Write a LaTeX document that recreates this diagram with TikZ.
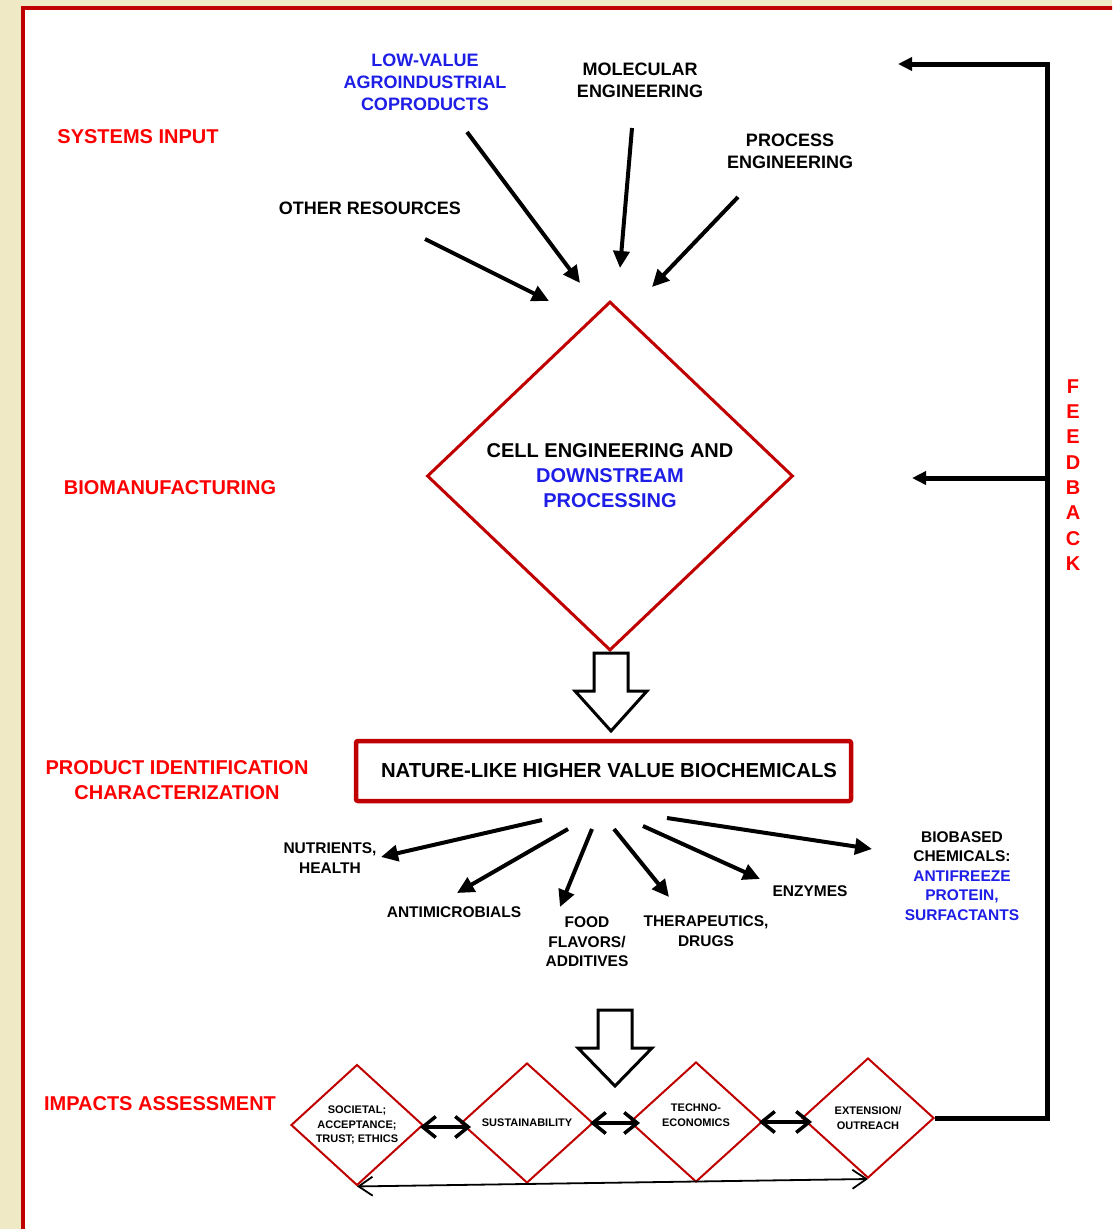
\documentclass[tikz,border=0pt]{standalone}
\usepackage{fontspec}
\setmainfont{Liberation Sans}
\usetikzlibrary{arrows.meta,shapes.geometric,positioning}

\definecolor{framered}{RGB}{192,0,0}
\definecolor{labelred}{RGB}{255,0,0}
\definecolor{itemblue}{RGB}{30,30,230}
\definecolor{paper}{RGB}{239,233,198}

\tikzset{
  stage/.style={text=labelred,font=\bfseries\fontsize{20}{25}\selectfont,align=center},
  source/.style={font=\bfseries\fontsize{18}{22}\selectfont,align=center},
  product/.style={font=\bfseries\fontsize{15.5}{19.5}\selectfont,align=center},
  impact/.style={diamond,draw=framered,line width=2pt,inner sep=0pt,
    minimum width=132pt,minimum height=120pt,
    font=\bfseries\fontsize{11}{14.5}\selectfont,align=center},
  inarrow/.style={-{Triangle[length=17pt,width=16pt]},line width=4pt},
  feedline/.style={-{Triangle[length=14pt,width=13pt]},line width=5pt,line join=miter},
  pairlink/.style={{Straight Barb[length=13pt,width=21pt]}-{Straight Barb[length=13pt,width=21pt]},line width=3.5pt},
  looplink/.style={{Straight Barb[length=14pt,width=19pt]}-{Straight Barb[length=14pt,width=19pt]},line width=1.8pt},
  hollow/.style={draw,line width=3pt,fill=white,line join=miter},
}

\begin{document}
\begin{tikzpicture}[x=1pt,y=-1pt]
  \clip (0,0) rectangle (1112,1229);
  \fill[paper] (0,0) rectangle (1112,1229);
  \filldraw[fill=white,draw=framered,line width=4pt] (23,8) rectangle (1140,1260);

  % stages
  \node[stage] (sysin) at (138,137) {SYSTEMS INPUT};
  \node[stage] (biomfg) at (170,488) {BIOMANUFACTURING};
  \node[stage] (prodid) at (177,780) {PRODUCT IDENTIFICATION\\CHARACTERIZATION};
  \node[stage] (impacts) at (160,1104) {IMPACTS ASSESSMENT};

  % inputs
  \node[source,text=itemblue] (lowval) at (425,82) {LOW-VALUE\\AGROINDUSTRIAL\\COPRODUCTS};
  \node[source] (moleng) at (640,80) {MOLECULAR\\ENGINEERING};
  \node[source] (proceng) at (790,151) {PROCESS\\ENGINEERING};
  \node[source] (other) at (370,208) {OTHER RESOURCES};

  \node[diamond,draw=framered,line width=3pt,inner sep=0pt,minimum width=366pt,
    minimum height=349pt,font=\bfseries\fontsize{20}{25}\selectfont,align=center] (cell) at (610,476)
    {CELL ENGINEERING AND\\\textcolor{itemblue}{DOWNSTREAM}\\\textcolor{itemblue}{PROCESSING}};

  \coordinate (lowvalA) at (467,132); \coordinate (lowvalB) at (580,283);
  \coordinate (molengA) at (632,128); \coordinate (molengB) at (620,268);
  \coordinate (procengA) at (738,197); \coordinate (procengB) at (652,287);
  \coordinate (otherA) at (425,239); \coordinate (otherB) at (549,301);
  \draw[inarrow] (lowvalA) -- (lowvalB);
  \draw[inarrow] (molengA) -- (molengB);
  \draw[inarrow] (procengA) -- (procengB);
  \draw[inarrow] (otherA) -- (otherB);

  \draw[hollow] (594,653) -- (628,653) -- (628,691) -- (647,691) -- (611,731)
    -- (575,691) -- (594,691) -- cycle;

  \node[draw=framered,line width=4.5pt,rounded corners=2pt,minimum width=495pt,minimum height=60pt,
    font=\bfseries\fontsize{20.3}{25}\selectfont] (nlhv) at (603.5,771)
    {\hspace{11pt}NATURE-LIKE HIGHER VALUE BIOCHEMICALS};

  % products
  \node[product] (nutr) at (330,858) {NUTRIENTS,\\HEALTH};
  \node[product] (antimic) at (454,912) {ANTIMICROBIALS};
  \node[product] (food) at (587,942) {FOOD\\FLAVORS/\\ADDITIVES};
  \node[product] (thera) at (706,931) {THERAPEUTICS,\\DRUGS};
  \node[product] (enzy) at (810,891) {ENZYMES};
  \node[product] (biobased) at (962,876) {BIOBASED\\CHEMICALS:\\\textcolor{itemblue}{ANTIFREEZE}\\
    \textcolor{itemblue}{PROTEIN,}\\\textcolor{itemblue}{SURFACTANTS}};

  \coordinate (nutrA) at (542,820); \coordinate (nutrB) at (381,857);
  \coordinate (antimicA) at (568,829); \coordinate (antimicB) at (457,893);
  \coordinate (foodA) at (592,829); \coordinate (foodB) at (560,907);
  \coordinate (theraA) at (614,829); \coordinate (theraB) at (669,897);
  \coordinate (enzyA) at (643,826); \coordinate (enzyB) at (760,879);
  \coordinate (biobasedA) at (667,818); \coordinate (biobasedB) at (872,849);
  \foreach \p in {nutr,antimic,food,thera,enzy,biobased}
    \draw[inarrow] (\p A) -- (\p B);

  \draw[hollow] (598,1010) -- (632,1010) -- (632,1048) -- (652,1048) -- (615,1086)
    -- (578,1048) -- (598,1048) -- cycle;

  % impacts
  \node[impact] (societal) at (357,1125) {SOCIETAL;\\ACCEPTANCE;\\TRUST; ETHICS};
  \node[impact] (sustain) at (527,1123) {SUSTAINABILITY};
  \node[impact] (techno) at (696,1122) {};
  \node[font=\bfseries\fontsize{11}{14.5}\selectfont,align=center] at ([yshift=7pt]techno.center) {TECHNO-\\ECONOMICS};
  \node[impact] (extens) at (868,1118) {EXTENSION/\\OUTREACH};

  \draw[pairlink,shorten <=-4pt,shorten >=-11pt] ([yshift=-2pt]societal.east) -- ([yshift=-2pt]societal.east -| sustain.west);
  \draw[pairlink,shorten <=-4pt,shorten >=-11pt] (sustain.east) -- (sustain.east -| techno.west);
  \draw[pairlink,shorten <=-4pt,shorten >=-11pt] (techno.east) -- (techno.east -| extens.west);
  \draw[looplink] (societal.south) -- (extens.south);

  % feedback
  \coordinate (fbBot) at (1047,1118);
  \coordinate (fbTop) at (1047,64);
  \coordinate (fbMid) at (1047,478);
  \coordinate (fbIn) at (898,64);
  \coordinate (fbCell) at (912,478);
  \draw[feedline] (extens.east) -- (fbBot) -- (fbTop) -- (fbIn);
  \draw[feedline] (fbMid) -- (fbCell);
  \node[stage,font=\bfseries\fontsize{20}{25.3}\selectfont] (fb) at (1073,475) {F\\E\\E\\D\\B\\A\\C\\K};
\end{tikzpicture}
\end{document}
